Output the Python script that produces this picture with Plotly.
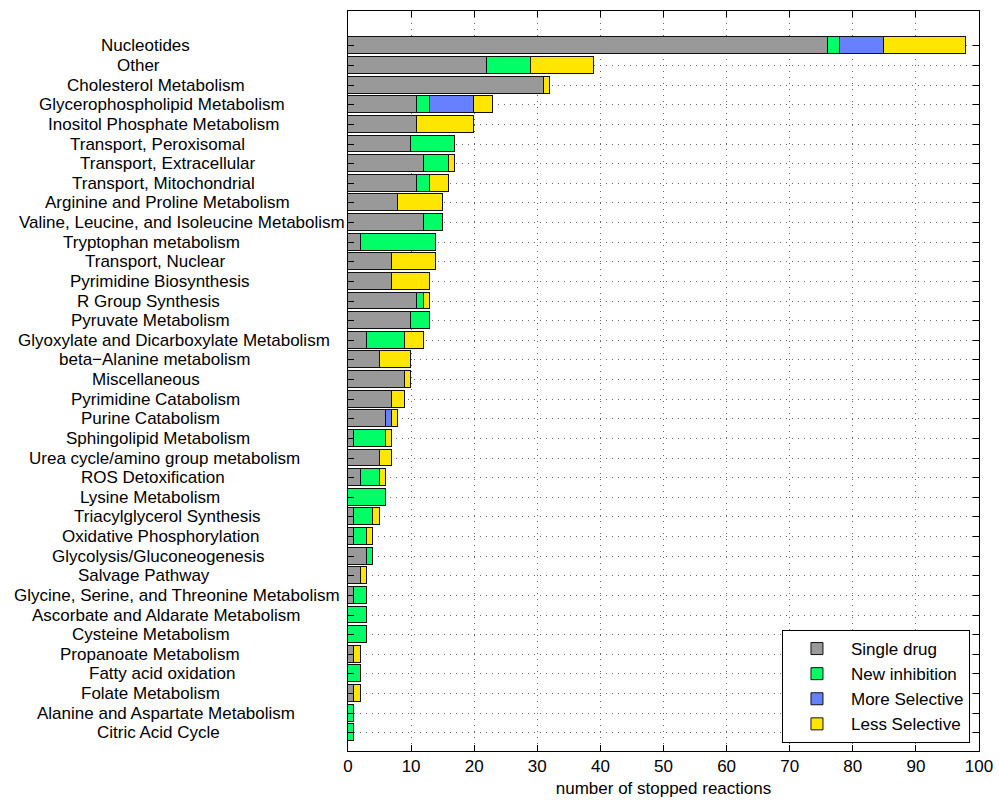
import plotly.graph_objects as go

categories = [
    "Nucleotides", "Other", "Cholesterol Metabolism", "Glycerophospholipid Metabolism",
    "Inositol Phosphate Metabolism", "Transport, Peroxisomal", "Transport, Extracellular",
    "Transport, Mitochondrial", "Arginine and Proline Metabolism",
    "Valine, Leucine, and Isoleucine Metabolism", "Tryptophan metabolism",
    "Transport, Nuclear", "Pyrimidine Biosynthesis", "R Group Synthesis",
    "Pyruvate Metabolism", "Glyoxylate and Dicarboxylate Metabolism",
    "beta\u2212Alanine metabolism", "Miscellaneous", "Pyrimidine Catabolism",
    "Purine Catabolism", "Sphingolipid Metabolism", "Urea cycle/amino group metabolism",
    "ROS Detoxification", "Lysine Metabolism", "Triacylglycerol Synthesis",
    "Oxidative Phosphorylation", "Glycolysis/Gluconeogenesis", "Salvage Pathway",
    "Glycine, Serine, and Threonine Metabolism", "Ascorbate and Aldarate Metabolism",
    "Cysteine Metabolism", "Propanoate Metabolism", "Fatty acid oxidation",
    "Folate Metabolism", "Alanine and Aspartate Metabolism", "Citric Acid Cycle",
]

single_drug = [76, 22, 31, 11, 11, 10, 12, 11, 8, 12, 2, 7, 7, 11, 10, 3, 5, 9, 7, 6,
               1, 5, 2, 0, 1, 1, 3, 2, 1, 0, 0, 1, 0, 1, 0, 0]
new_inhibition = [2, 7, 0, 2, 0, 7, 4, 2, 0, 3, 12, 0, 0, 1, 3, 6, 0, 0, 0, 0,
                  5, 0, 3, 6, 3, 2, 1, 0, 2, 3, 3, 0, 2, 0, 1, 1]
more_selective = [7, 0, 0, 7, 0, 0, 0, 0, 0, 0, 0, 0, 0, 0, 0, 0, 0, 0, 0, 1,
                  0, 0, 0, 0, 0, 0, 0, 0, 0, 0, 0, 0, 0, 0, 0, 0]
less_selective = [13, 10, 1, 3, 9, 0, 1, 3, 7, 0, 0, 7, 6, 1, 0, 3, 5, 1, 2, 1,
                  1, 2, 1, 0, 1, 1, 0, 1, 0, 0, 0, 1, 0, 1, 0, 0]

series_names = ["Single drug", "New inhibition", "More Selective", "Less Selective"]
series_colors = ["#999999", "#00FF66", "#6680FF", "#FFE600"]
series_values = [single_drug, new_inhibition, more_selective, less_selective]

x_ticks = list(range(0, 101, 10))

n = len(categories)
ypos = list(range(n, 0, -1))

FONT = "Liberation Sans, Arial, Helvetica, sans-serif"

fig = go.Figure()
for name, color, vals in zip(series_names, series_colors, series_values):
    fig.add_trace(go.Bar(
        x=[v if v != 0 else None for v in vals], y=ypos, orientation="h", name=name,
        width=0.86,
        marker=dict(color=color, line=dict(color="#111111", width=1)),
    ))

maxlen = max(len(c) for c in categories)
for c, y in zip(categories, ypos):
    fig.add_annotation(
        x=0, y=y, xref="x", yref="y", text=c, showarrow=False,
        xanchor="right", yanchor="middle",
        xshift=-1 - 5.0 * (maxlen - len(c)),
        font=dict(family=FONT, size=17, color="black"),
    )

fig.update_layout(
    barmode="stack",
    width=999, height=801,
    margin=dict(l=348, r=20, t=11, b=50),
    plot_bgcolor="white", paper_bgcolor="white",
    font=dict(family=FONT, size=17, color="black"),
    bargap=0,
    legend=dict(
        x=0.9857, y=0.0108, xanchor="right", yanchor="bottom",
        bgcolor="white", bordercolor="black", borderwidth=1,
        font=dict(size=17), traceorder="normal", tracegroupgap=0,
        itemwidth=58,
    ),
    showlegend=True,
)
fig.update_xaxes(
    range=[0, 100], tickvals=x_ticks, ticktext=[str(t) for t in x_ticks],
    showline=True, linecolor="black", linewidth=1, mirror="allticks",
    ticks="inside", ticklen=6, tickcolor="black", automargin=False,
    showgrid=True, gridcolor="#666666", griddash="1px,5px", gridwidth=1,
    zeroline=False,
    title=dict(text="number of stopped reactions", font=dict(size=17), standoff=6),
)
fig.update_yaxes(
    range=[0.07, 37.78], tickvals=ypos, showticklabels=False, automargin=False,
    showline=True, linecolor="black", linewidth=1, mirror="allticks",
    ticks="inside", ticklen=6, tickcolor="black",
    showgrid=True, gridcolor="#666666", griddash="1px,5px", gridwidth=1,
    zeroline=False,
)

fig.write_html("out.html", post_script="document.body.style.margin='0px';",
               config={"displayModeBar": False})
